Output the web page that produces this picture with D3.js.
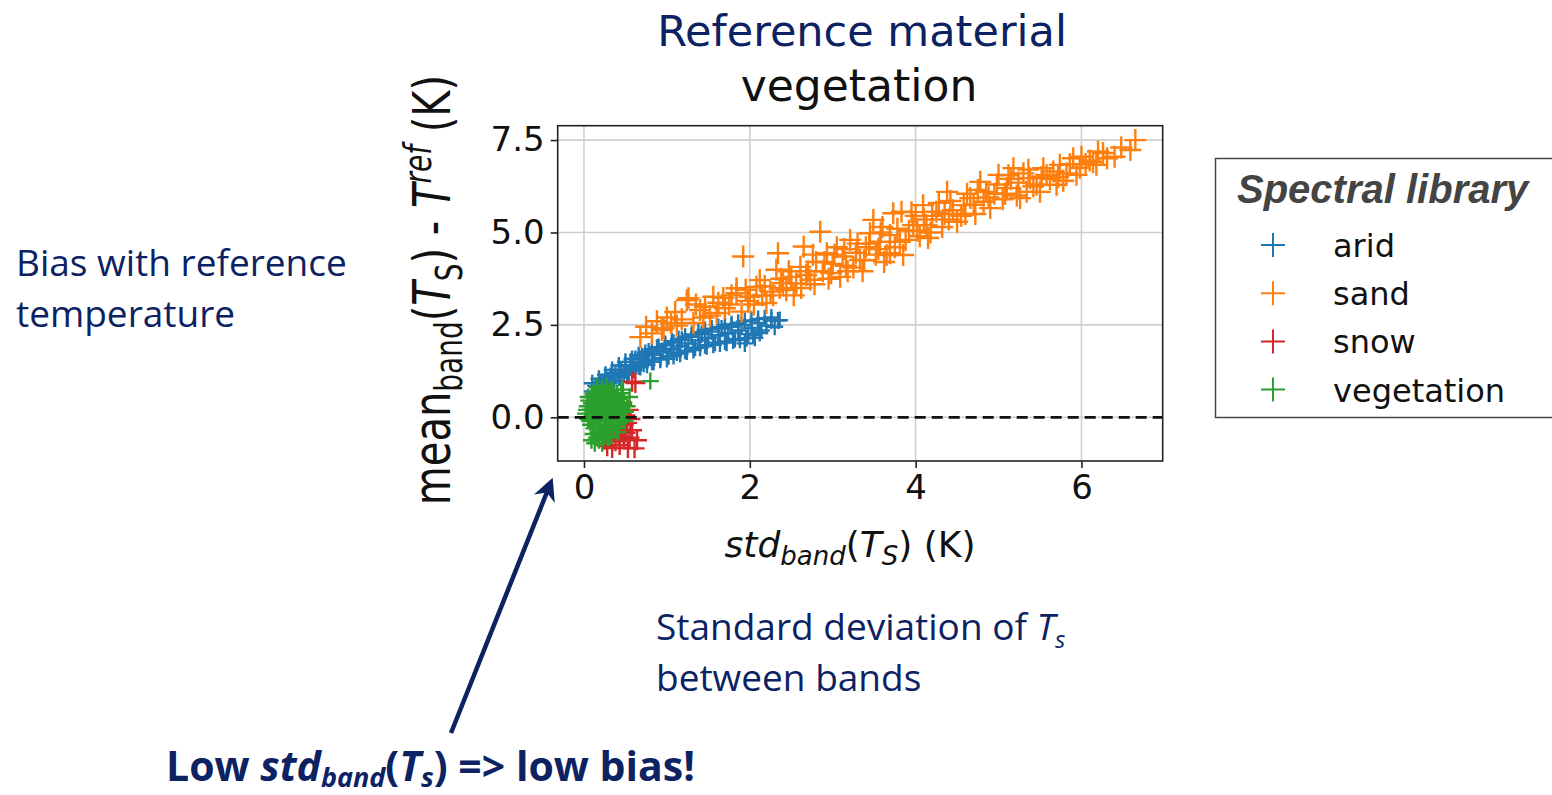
<!DOCTYPE html>
<html>
<head>
<meta charset="utf-8">
<script src="https://cdn.jsdelivr.net/npm/d3@7"></script>
<style>
  html, body { margin: 0; padding: 0; background: #fff; }
  svg { display: block; }
</style>
</head>
<body>
<div id="chart"></div>
<script>
// values: [std_band(Ts), mean_band(Ts) - Tref]
const ARID = [
  [0.10,0.70],[0.14,0.85],[0.18,0.78],[0.20,0.95],[0.24,0.88],[0.26,1.05],[0.30,0.92],[0.32,1.12],
  [0.36,1.00],[0.38,1.20],[0.42,1.08],[0.45,1.28],[0.48,1.15],[0.50,1.40],[0.54,1.22],[0.56,1.50],
  [0.60,1.30],[0.62,1.58],[0.66,1.38],[0.70,1.65],[0.72,1.45],[0.76,1.55],[0.78,1.78],[0.82,1.50],
  [0.85,1.70],[0.88,1.88],[0.92,1.60],[0.95,1.80],[0.98,1.95],[1.02,1.65],[1.05,1.85],[1.08,2.02],
  [1.12,1.75],[1.15,1.92],[1.18,2.10],[1.22,1.80],[1.26,2.00],[1.30,2.18],[1.34,1.88],[1.38,2.08],
  [1.42,2.25],[1.46,1.95],[1.50,2.15],[1.54,2.32],[1.58,2.02],[1.62,2.22],[1.66,2.40],[1.70,2.05],
  [1.74,2.28],[1.78,2.45],[1.82,2.12],[1.86,2.35],[1.90,2.50],[1.94,2.00],[1.98,2.25],[2.02,2.42],
  [2.06,2.15],[2.10,2.55],[2.14,2.35],[2.20,2.48],[2.26,2.62],[2.30,2.45],[2.36,2.63],
  [0.12,0.62],[0.20,0.72],[0.28,0.84],[0.36,0.98],[0.44,1.08],[0.52,1.16],[0.60,1.28],[0.68,1.36],
  [0.76,1.42],[0.84,1.50],[0.92,1.56],[1.00,1.58],[1.08,1.66],[1.16,1.72],[1.24,1.78],[1.32,1.82],
  [1.40,1.88],[1.48,1.92],[1.56,1.96],[1.64,2.00],[1.72,2.02],[1.80,2.08],[1.88,2.10],[1.96,2.14],
  [2.04,2.22],[2.12,2.28],
  [0.10,0.92],[0.18,1.04],[0.26,1.15],[0.34,1.28],[0.42,1.40],[0.50,1.50],[0.58,1.58],[0.66,1.68],
  [0.74,1.74],[0.82,1.84],[0.90,1.90],[0.98,1.98],[1.06,2.06],[1.14,2.12],[1.22,2.18],[1.30,2.24],
  [1.38,2.30],[1.46,2.36],[1.54,2.40],[1.62,2.44],[1.70,2.50],[1.78,2.52],[1.86,2.56],[1.94,2.60],
  [2.02,2.62],[2.10,2.66],[2.18,2.68],[2.26,2.70],[2.34,2.62]
];
const SAND = [
  [0.68,2.17],[0.82,2.27],[0.94,2.36],[0.96,2.41],[1.05,2.55],[1.12,2.48],[1.24,3.17],[1.26,3.22],
  [1.32,2.55],[1.40,2.90],[1.46,2.99],[1.52,2.75],[1.56,3.26],[1.60,2.82],[1.68,3.23],[1.75,3.05],
  [1.84,3.36],[1.84,3.49],[1.90,2.86],[1.92,4.35],[1.98,3.15],[2.00,3.26],[2.08,3.53],[2.12,3.71],
  [2.15,3.30],[2.20,3.09],[2.25,3.40],[2.32,3.99],[2.34,4.44],[2.38,3.75],[2.40,3.63],[2.44,3.44],
  [2.50,3.80],[2.56,3.62],[2.61,4.07],[2.62,3.50],[2.65,4.62],[2.70,3.95],[2.73,3.72],[2.76,4.40],
  [2.80,4.20],[2.85,5.02],[2.88,3.95],[2.93,4.44],[2.98,3.90],[3.00,4.15],[3.05,4.60],[3.09,3.80],
  [3.12,4.35],[3.16,4.10],[3.21,4.80],[3.25,4.05],[3.30,4.70],[3.33,4.26],[3.36,3.95],[3.40,4.60],
  [3.45,4.98],[3.49,5.34],[3.52,4.40],[3.57,4.75],[3.58,5.00],[3.62,4.20],[3.65,4.39],[3.69,4.44],
  [3.69,4.93],[3.73,5.52],[3.78,5.10],[3.81,4.75],[3.83,5.56],[3.85,4.39],[3.92,5.05],[3.97,5.20],
  [4.00,5.45],[4.05,4.90],[4.09,5.74],[4.13,5.20],[4.15,4.85],[4.20,5.45],[4.25,5.56],[4.32,5.15],
  [4.38,6.10],[4.40,5.35],[4.45,5.60],[4.50,5.29],[4.58,5.74],[4.60,5.50],[4.66,5.93],[4.72,5.50],
  [4.78,6.37],[4.82,5.83],[4.85,6.10],[4.90,5.66],[4.95,6.05],[5.00,6.56],[5.05,5.90],[5.10,6.20],
  [5.15,6.45],[5.18,6.74],[5.22,6.00],[5.26,5.93],[5.30,6.60],[5.34,6.10],[5.38,6.47],[5.46,6.30],
  [5.50,6.10],[5.54,6.74],[5.58,6.55],[5.62,6.45],[5.70,6.29],[5.74,6.83],[5.78,6.40],[5.82,6.60],
  [5.90,7.01],[5.94,6.56],[5.98,6.75],[6.05,6.85],[6.10,6.95],[6.18,6.83],[6.20,7.19],[6.31,7.01],
  [6.59,7.23],[6.65,7.50],
  [0.75,2.45],[0.88,2.60],[1.00,2.70],[1.10,2.85],[1.18,2.65],[1.35,3.05],[1.44,2.70],[1.62,3.10],
  [1.70,2.95],[1.78,3.30],[1.95,3.45],[2.05,3.05],[2.18,3.55],[2.28,3.30],[2.36,3.50],[2.47,3.95],
  [2.53,3.30],[2.68,3.85],[2.78,3.60],[2.90,4.20],[2.95,3.75],[3.02,4.40],[3.14,4.55],[3.18,3.95],
  [3.28,4.45],[3.38,4.25],[3.44,4.70],[3.55,4.55],[3.60,5.15],[3.75,4.60],[3.88,4.80],[3.95,5.55],
  [4.02,5.05],[4.10,5.35],[4.18,5.00],[4.28,5.80],[4.35,5.50],[4.42,5.85],[4.55,5.45],[4.62,6.05],
  [4.70,5.75],[4.75,6.15],[4.88,5.95],[4.98,6.30],[5.08,6.05],[5.12,6.55],[5.24,6.35],[5.36,6.70],
  [5.42,6.25],[5.52,6.50],[5.66,6.65],[5.72,6.50],[5.86,6.85],[6.00,7.05],[6.14,6.90],[6.26,7.15],
  [6.40,7.05],[6.48,7.30]
];
const SNOW = [
  [0.25,-0.60],[0.28,-0.78],[0.32,-0.45],[0.34,-0.83],[0.36,-0.30],[0.38,-0.65],[0.40,-0.10],
  [0.42,-0.50],[0.43,-0.75],[0.44,0.15],[0.45,-0.35],[0.46,0.35],[0.48,-0.20],[0.48,-0.60],
  [0.50,0.05],[0.50,-0.42],[0.52,-0.15],[0.53,-0.83],[0.54,0.20],[0.55,-0.55],[0.56,-0.05],
  [0.58,-0.35],[0.61,-0.84],[0.64,-0.62],[0.58,0.96],[0.62,0.93]
];
const VEGETATION = [
  [0.02,0.10],[0.04,0.30],[0.05,-0.05],[0.06,0.45],[0.08,0.20],[0.08,-0.20],[0.10,0.55],[0.10,0.05],
  [0.12,0.35],[0.12,-0.30],[0.14,0.70],[0.14,0.15],[0.15,-0.10],[0.16,0.45],[0.17,-0.45],[0.18,0.25],
  [0.19,0.60],[0.20,0.00],[0.20,-0.25],[0.22,0.40],[0.22,0.78],[0.23,-0.55],[0.24,0.15],[0.25,-0.10],
  [0.26,0.55],[0.27,-0.35],[0.28,0.30],[0.29,0.70],[0.30,0.05],[0.31,-0.20],[0.32,0.45],[0.33,-0.50],
  [0.34,0.20],[0.35,0.60],[0.36,-0.05],[0.38,0.35],[0.39,-0.30],[0.40,0.10],[0.41,0.50],[0.42,-0.15],
  [0.44,0.25],[0.45,0.65],[0.46,0.00],[0.48,0.40],[0.50,0.15],[0.52,0.30],[0.13,-0.70],[0.09,-0.62],
  [0.80,0.98],[0.55,0.55],[0.47,0.75],
  [0.03,0.20],[0.05,0.55],[0.07,-0.10],[0.09,0.38],[0.11,0.62],[0.11,-0.45],[0.13,0.05],[0.15,0.30],
  [0.16,0.82],[0.17,-0.25],[0.19,0.10],[0.21,0.52],[0.21,-0.40],[0.23,0.68],[0.24,-0.20],[0.26,0.25],
  [0.27,0.85],[0.28,-0.05],[0.29,-0.55],[0.30,0.40],[0.32,0.15],[0.33,0.75],[0.34,-0.30],[0.36,0.50],
  [0.37,-0.15],[0.38,0.10],[0.40,0.65],[0.41,-0.40],[0.43,0.35],[0.44,-0.05],[0.46,0.55],[0.47,0.20],
  [0.49,-0.10],[0.18,-0.62],[0.22,-0.70],[0.15,-0.55]
];

const SERIES_NAMES = ["arid", "sand", "snow", "vegetation"];
const X_TICKS = [0, 2, 4, 6];
const Y_TICKS = [0.0, 2.5, 5.0, 7.5];

const COLORS = { arid: "#1f77b4", sand: "#ff7f0e", snow: "#d62728", vegetation: "#2ca02c" };
const MARKER = { arid: 17, sand: 22, snow: 20, vegetation: 17 };
const NAVY = "#0c2262";

const W = 1552, H = 795;
const frame = { left: 557.7, right: 1162.7, top: 125.7, bottom: 461 };

const svg = d3.select("#chart").append("svg")
    .attr("width", W)
    .attr("height", H)
    .attr("viewBox", [0, 0, W, H]);

const x = d3.scaleLinear().domain([-0.317, 6.98]).range([frame.left, frame.right]);
const y = d3.scaleLinear().domain([-1.182, 7.889]).range([frame.bottom, frame.top]);

function plus(s) {
  const h = s / 2;
  return `M${-h},0H${h}M0,${-h}V${h}`;
}

// grid
svg.append("g")
  .selectAll("line")
  .data(X_TICKS)
  .join("line")
    .attr("x1", d => x(d)).attr("x2", d => x(d))
    .attr("y1", frame.top).attr("y2", frame.bottom)
    .attr("stroke", "#cfcfcf").attr("stroke-width", 1.6);
svg.append("g")
  .selectAll("line")
  .data(Y_TICKS)
  .join("line")
    .attr("x1", frame.left).attr("x2", frame.right)
    .attr("y1", d => y(d)).attr("y2", d => y(d))
    .attr("stroke", "#cfcfcf").attr("stroke-width", 1.6);

// points, in legend order so vegetation ends on top
const seriesData = { arid: ARID, sand: SAND, snow: SNOW, vegetation: VEGETATION };
const plot = svg.append("g");
SERIES_NAMES.forEach(name => {
  plot.append("g")
    .selectAll("path")
    .data(seriesData[name])
    .join("path")
      .attr("transform", d => `translate(${x(d[0])},${y(d[1])})`)
      .attr("d", plus(MARKER[name]))
      .attr("fill", "none")
      .attr("stroke", COLORS[name])
      .attr("stroke-width", 2.4);
});

// zero line
svg.append("line")
    .attr("x1", frame.left).attr("x2", frame.right)
    .attr("y1", y(0)).attr("y2", y(0))
    .attr("stroke", "#111")
    .attr("stroke-width", 2.8)
    .attr("stroke-dasharray", "11,6");

// frame
svg.append("rect")
    .attr("x", frame.left).attr("y", frame.top)
    .attr("width", frame.right - frame.left)
    .attr("height", frame.bottom - frame.top)
    .attr("fill", "none")
    .attr("stroke", "#222")
    .attr("stroke-width", 1.6);

// axes
const yAxis = d3.axisLeft(y).tickValues(Y_TICKS).tickFormat(d3.format(".1f")).tickSize(7).tickPadding(6);
const xAxis = d3.axisBottom(x).tickValues(X_TICKS).tickFormat(d3.format("d")).tickSize(7).tickPadding(7);

svg.append("g")
    .attr("transform", `translate(${frame.left},0)`)
    .call(yAxis)
    .call(g => g.select(".domain").remove())
    .call(g => g.selectAll(".tick line").attr("stroke", "#222").attr("stroke-width", 1.6))
    .call(g => g.selectAll(".tick text")
        .attr("font-family", "DejaVu Sans").attr("font-size", 34).attr("fill", "#111"));

svg.append("g")
    .attr("transform", `translate(0,${frame.bottom})`)
    .call(xAxis)
    .call(g => g.select(".domain").remove())
    .call(g => g.selectAll(".tick line").attr("stroke", "#222").attr("stroke-width", 1.6))
    .call(g => g.selectAll(".tick text")
        .attr("font-family", "DejaVu Sans").attr("font-size", 34).attr("fill", "#111"));

// x label: std_band(T_S) (K)
const xl = svg.append("text")
    .attr("x", 850)
    .attr("y", 557)
    .attr("text-anchor", "middle")
    .attr("font-family", "DejaVu Sans")
    .attr("font-size", 36)
    .attr("fill", "#111");
xl.append("tspan").attr("font-style", "italic").text("std");
xl.append("tspan").attr("font-style", "italic").attr("font-size", 26).attr("dy", 8).text("band");
xl.append("tspan").attr("dy", -8).text("(");
xl.append("tspan").attr("font-style", "italic").text("T");
xl.append("tspan").attr("font-style", "italic").attr("font-size", 26).attr("dy", 8).text("S");
xl.append("tspan").attr("dy", -8).text(") (K)");

// y label: mean_band(T_S) - T^ref (K)
const yl = svg.append("text")
    .attr("transform", "translate(450,290) rotate(-90) scale(1,1.3)")
    .attr("text-anchor", "middle")
    .attr("font-family", "DejaVu Sans")
    .attr("font-size", 40)
    .attr("fill", "#111");
yl.append("tspan").text("mean");
yl.append("tspan").attr("font-size", 28).attr("dy", 9).text("band");
yl.append("tspan").attr("dy", -9).text("(");
yl.append("tspan").attr("font-style", "italic").text("T");
yl.append("tspan").attr("font-size", 28).attr("dy", 9).text("S");
yl.append("tspan").attr("dy", -9).text(") - ");
yl.append("tspan").attr("font-style", "italic").text("T");
yl.append("tspan").attr("font-style", "italic").attr("font-size", 28).attr("dy", -15).text("ref");
yl.append("tspan").attr("dy", 15).text(" (K)");

// title
svg.append("text")
    .attr("x", 862).attr("y", 46)
    .attr("text-anchor", "middle")
    .attr("font-family", "DejaVu Sans").attr("font-size", 43)
    .attr("fill", NAVY)
    .text("Reference material");
svg.append("text")
    .attr("x", 859).attr("y", 101)
    .attr("text-anchor", "middle")
    .attr("font-family", "DejaVu Sans").attr("font-size", 44)
    .attr("fill", "#111")
    .text("vegetation");

// legend
const legend = svg.append("g");
legend.append("rect")
    .attr("x", 1215.5).attr("y", 158.5)
    .attr("width", 400).attr("height", 259)
    .attr("fill", "#fff")
    .attr("stroke", "#444")
    .attr("stroke-width", 1.5);
legend.append("text")
    .attr("x", 1237).attr("y", 203)
    .attr("font-family", "Liberation Sans").attr("font-weight", "bold").attr("font-style", "italic")
    .attr("font-size", 40)
    .attr("fill", "#444")
    .text("Spectral library");
const legendRow = legend.selectAll("g.row")
  .data(SERIES_NAMES)
  .join("g")
    .attr("transform", (d, i) => `translate(0,${245 + i * 48.2})`);
legendRow.append("path")
    .attr("transform", "translate(1273,0)")
    .attr("d", plus(24))
    .attr("fill", "none")
    .attr("stroke", d => COLORS[d])
    .attr("stroke-width", 2);
legendRow.append("text")
    .attr("x", 1333).attr("y", 12)
    .attr("font-family", "DejaVu Sans").attr("font-size", 32)
    .attr("fill", "#111")
    .text(d => d);

// slide annotations
const note = svg.append("g")
    .attr("font-family", "Open Sans")
    .attr("fill", NAVY);
note.append("text").attr("x", 16).attr("y", 276).attr("font-size", 37).text("Bias with reference");
note.append("text").attr("x", 16).attr("y", 327).attr("font-size", 37).text("temperature");

const sd = note.append("text").attr("x", 656).attr("y", 640).attr("font-size", 37);
sd.append("tspan").text("Standard deviation of ");
sd.append("tspan").attr("font-style", "italic").text("T");
sd.append("tspan").attr("font-style", "italic").attr("font-size", 24).attr("dy", 8).text("s");
note.append("text").attr("x", 656).attr("y", 691).attr("font-size", 37).text("between bands");

const low = note.append("text")
    .attr("x", 166).attr("y", 781)
    .attr("font-size", 41)
    .attr("font-weight", "bold");
low.append("tspan").text("Low ");
low.append("tspan").attr("font-style", "italic").text("std");
low.append("tspan").attr("font-style", "italic").attr("font-size", 27).attr("dy", 6).text("band");
low.append("tspan").attr("dy", -6).text("(");
low.append("tspan").attr("font-style", "italic").text("T");
low.append("tspan").attr("font-style", "italic").attr("font-size", 27).attr("dy", 6).text("s");
low.append("tspan").attr("dy", -6).text(") => low bias!");

// arrow
svg.append("defs").append("marker")
    .attr("id", "head")
    .attr("viewBox", "0 0 10 10")
    .attr("refX", 8).attr("refY", 5)
    .attr("markerWidth", 5).attr("markerHeight", 5)
    .attr("orient", "auto")
  .append("path")
    .attr("d", "M0,0L10,5L0,10L3,5Z")
    .attr("fill", NAVY);
svg.append("line")
    .attr("x1", 451).attr("y1", 733)
    .attr("x2", 551).attr("y2", 482)
    .attr("stroke", NAVY)
    .attr("stroke-width", 4.5)
    .attr("marker-end", "url(#head)");
</script>
</body>
</html>
